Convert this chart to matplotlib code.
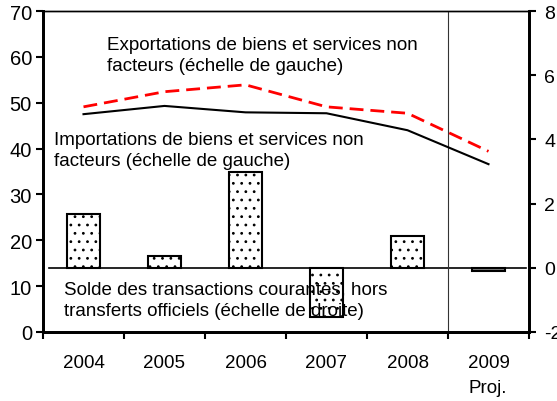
import matplotlib.pyplot as plt

plt.rcParams["font.family"] = ["Liberation Sans", "DejaVu Sans"]
plt.rcParams["hatch.linewidth"] = 0.8
plt.rcParams["axes.unicode_minus"] = False

years = ["2004", "2005", "2006", "2007", "2008", "2009"]
exports = [49.1, 52.4, 53.9, 49.1, 47.7, 39.4]
imports = [47.5, 49.3, 47.9, 47.7, 44.0, 36.6]
current_account = [1.68, 0.37, 2.98, -1.52, 1.0, -0.1]

x = list(range(len(years)))
fs = 13.5

fig = plt.figure(figsize=(5.57, 4.02), dpi=100)
ax = fig.add_axes([43 / 557, 69 / 402, 486 / 557, 321 / 402])
ax2 = ax.twinx()

# bars on right axis
colors = ["white"] * 5 + ["#808080"]
hatches = [".."] * 5 + [None]
for xi, v, c, h in zip(x, current_account, colors, hatches):
    ax2.bar(xi, v, width=0.41, color=c, edgecolor="black", linewidth=1.5, hatch=h, zorder=2)
ax2.axhline(0, xmin=0.012, xmax=0.994, color="black", linewidth=1.2, zorder=3)
ax2.set_ylim(-2, 8)
ax2.set_yticks([-2, 0, 2, 4, 6, 8])

# lines on left axis
ax.plot(x, exports, color="#FF0000", linewidth=2, dashes=(5, 2.5), zorder=4)
ax.plot(x, imports, color="black", linewidth=1.5, zorder=4)
ax.set_ylim(0, 70)
ax.set_yticks(range(0, 71, 10))
ax.set_xlim(-0.5, 5.5)
ax.set_zorder(ax2.get_zorder() + 1)
ax.patch.set_visible(False)

ax.axvline(4.5, color="#333333", linewidth=0.8, zorder=1)

# x ticks at boundaries, labels at centers
ax.set_xticks([i - 0.5 for i in range(7)])
ax.set_xticklabels([])
ax.set_xticks(x, minor=True)
ax.set_xticklabels(years, minor=True)
ax.tick_params(axis="x", which="major", length=5, width=1.5, direction="out")
ax.tick_params(axis="x", which="minor", length=0, pad=16, labelsize=fs)
ax.tick_params(axis="y", length=5, width=1.5, direction="out", pad=3, labelsize=14.5)
ax2.tick_params(axis="y", length=5, width=1.5, direction="out", pad=6, labelsize=14)

for a in (ax, ax2):
    for s in ("left", "right", "bottom"):
        a.spines[s].set_linewidth(2)
    a.spines["top"].set_linewidth(1)

ax.text(0.29, 64.6, "Exportations de biens et services non\nfacteurs (échelle de gauche)",
        fontsize=fs, va="top", ha="left", linespacing=1.3)
ax.text(-0.364, 43.9, "Importations de biens et services non\nfacteurs (échelle de gauche)",
        fontsize=fs, va="top", ha="left", linespacing=1.3)
ax.text(-0.24, 11.2, "Solde des transactions courantes, hors\ntransferts officiels (échelle de droite)",
        fontsize=fs, va="top", ha="left", linespacing=1.3, zorder=5)

fig.text(488 / 557, 1 - 389 / 402, "Proj.", fontsize=fs, ha="center", va="center")

fig.savefig("out.png", dpi=100)
